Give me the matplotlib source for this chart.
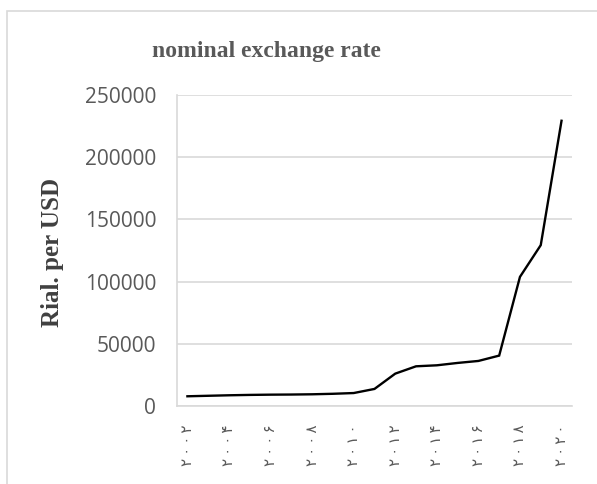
import matplotlib.pyplot as plt
from matplotlib.patches import Rectangle

# 名义汇率（里亚尔/美元），2002-2020 年
years = list(range(2002, 2021))
rate = [7800, 8200, 8600, 8900, 9100, 9200, 9400, 9800, 10400, 13700,
        26000, 31900, 32700, 34600, 36200, 40500, 103800, 129300, 229300]

# 波斯数字年份标签，字符之间加细空格
fa_digits = str.maketrans('0123456789', '۰۱۲۳۴۵۶۷۸۹')
year_labels = ['\u2009'.join(str(y).translate(fa_digits)) for y in years]

fig = plt.figure(figsize=(5.97, 4.84), dpi=100)
ax = fig.add_axes([0.2965, 0.1612, 0.6615, 0.6425])

x = list(range(len(years)))
ax.plot(x, rate, color='black', lw=1.7, solid_joinstyle='miter')

ax.set_xlim(-0.5, len(years) - 0.5)
ax.set_ylim(0, 250000)
ax.set_yticks(range(0, 250001, 50000))
ax.yaxis.grid(True, color='#d9d9d9', lw=1.2)
ax.set_axisbelow(True)

for s in ['top', 'right']:
    ax.spines[s].set_visible(False)
ax.spines['left'].set_color('#d9d9d9')
ax.spines['bottom'].set_color('#d9d9d9')
ax.spines['left'].set_linewidth(1.2)
ax.spines['bottom'].set_linewidth(1.2)

ax.tick_params(axis='both', length=0)
ax.tick_params(axis='y', labelsize=15, labelcolor='#595959', pad=15)
for t in ax.get_yticklabels():
    t.set_fontfamily('Open Sans')

ax.set_xticks(x[::2])
ax.set_xticklabels(year_labels[::2], rotation=90, fontsize=11,
                   color='#595959', family='DejaVu Sans')
ax.tick_params(axis='x', pad=13)

# 纵轴标题与图表标题
fig.text(53 / 597, 1 - 252 / 484, 'Rial. per USD', rotation=90,
         ha='center', va='center', fontsize=18, fontweight='bold',
         family='Liberation Serif', color='#404040')
fig.text(0.446, 0.893, 'nominal exchange rate', ha='center', va='center',
         fontsize=17, fontweight='bold', family='Liberation Serif',
         color='#595959')

# 图表外框
fig.patches.append(Rectangle((7 / 597, -0.5), 2, 0.5 + (1 - 11 / 484),
                             transform=fig.transFigure, fill=False,
                             edgecolor='#d9d9d9', lw=1.2))

fig.savefig('out.png', dpi=100)
